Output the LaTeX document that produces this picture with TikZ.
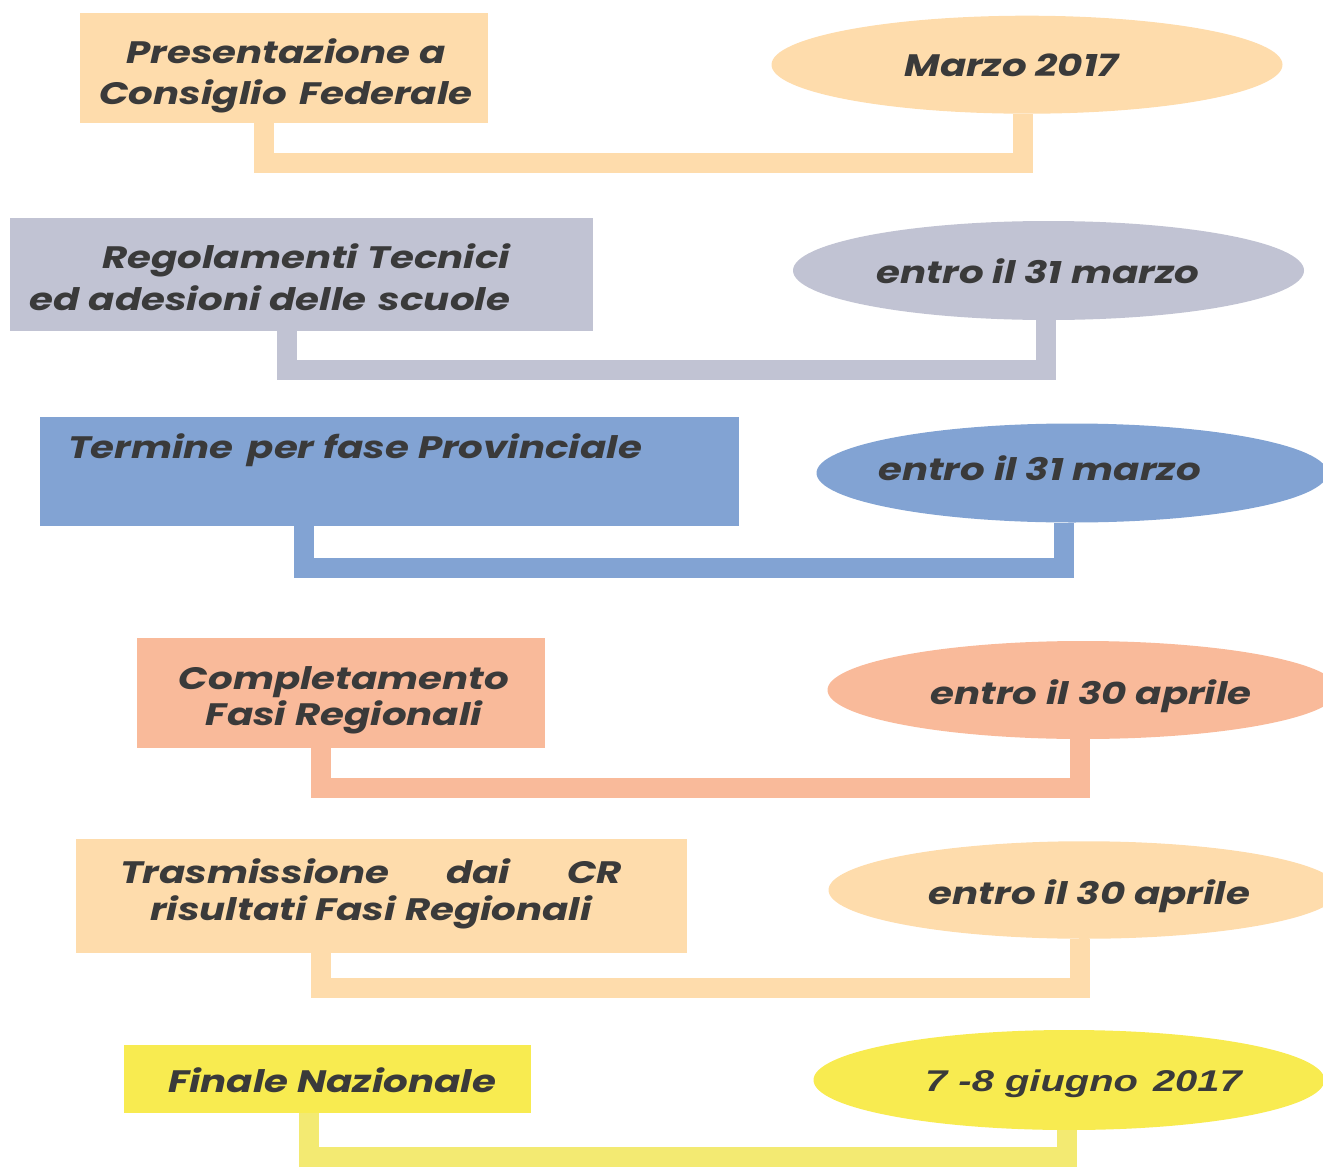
\documentclass[tikz,border=0pt]{standalone}
\usepackage{fontspec}
\setmainfont{Poppins}[FakeStretch=1.25]
\newfontfamily\arialbi{Liberation Sans}[FakeStretch=1.33]
\usetikzlibrary{shapes.geometric}
\definecolor{peach}{RGB}{254,220,172}
\definecolor{greyc}{RGB}{193,195,211}
\definecolor{bluec}{RGB}{130,163,211}
\definecolor{salmon}{RGB}{249,186,154}
\definecolor{yellowc}{RGB}{248,235,80}
\definecolor{yellowl}{RGB}{243,234,114}
\definecolor{txtc}{RGB}{58,58,58}
\begin{document}
\begin{tikzpicture}[x=1pt,y=-1pt,
  boxnode/.style={rectangle, fill=#1, draw=none, inner sep=0pt, outer sep=0pt},
  ellnode/.style={ellipse, fill=#1, draw=none, inner sep=0pt, outer sep=0pt, minimum width=511pt},
  conn/.style={draw=#1, line width=20pt, line join=miter, line cap=butt},
  txt/.style={inner sep=0pt, outer sep=0pt, text=txtc, font=\fontsize{31}{41}\selectfont\bfseries\itshape}]
\path[use as bounding box, clip] (0,0) rectangle (1323,1167);
% row 1
\node[boxnode=peach, minimum width=408pt, minimum height=110pt] (r1) at (284,67.7) {};
\node[ellnode=peach, minimum height=98pt] (e1) at (1027,64.7) {};
\draw[conn=peach] ([xshift=-19.7pt]r1.south) -- ++(0,40) -| ([xshift=-4pt]e1.south);
\node[txt, align=center, anchor=base] (t1) at (286,104) {Presentazione a\\Consiglio\hspace{0.4em}Federale};
\node[txt, anchor=base] (u1) at (1011.5,76) {Marzo 2017};
% row 2
\node[boxnode=greyc, minimum width=583pt, minimum height=113pt] (r2) at (301.5,274.5) {};
\node[ellnode=greyc, minimum height=99pt] (e2) at (1048.5,270.5) {};
\draw[conn=greyc] ([xshift=-15pt]r2.south) -- ++(0,38.5) -| ([xshift=-3pt]e2.south);
\node[txt, align=right, anchor=base east, font=\fontsize{31}{42}\selectfont\bfseries\itshape] (t2) at (510,310) {Regolamenti Tecnici\\ed adesioni delle\hspace{0.4em}scuole};
\node[txt, anchor=base] (u2) at (1038,283) {entro il 31 marzo};
% row 3
\node[boxnode=bluec, minimum width=699pt, minimum height=109pt] (r3) at (389,471.5) {};
\node[ellnode=bluec, minimum height=99pt] (e3) at (1072,473) {};
\draw[conn=bluec] ([xshift=-84.7pt]r3.south) -- ++(0,42) -| ([xshift=-8.3pt]e3.south);
\node[txt, anchor=base west] (t3) at (68,458) {Termine\hspace{0.45em}per fase Provinciale};
\node[txt, anchor=base] (u3) at (1039.5,480) {entro il 31 marzo};
% row 4
\node[boxnode=salmon, minimum width=408pt, minimum height=110pt] (r4) at (341,693) {};
\node[ellnode=salmon, minimum height=98pt] (e4) at (1083,690) {};
\draw[conn=salmon] ([xshift=-20pt]r4.south) -- ++(0,40) -| ([xshift=-3pt]e4.south);
\node[txt, align=center, anchor=base, font=\fontsize{31}{36}\selectfont\bfseries\itshape] (t4) at (344,725) {Completamento\\Fasi Regionali};
\node[txt, anchor=base] (u4) at (1091,704) {entro il 30 aprile};
% row 5
\node[boxnode=peach, minimum width=611pt, minimum height=114pt] (r5) at (381.5,896) {};
\node[ellnode=peach, minimum height=97.5pt] (e5) at (1084,890) {};
\draw[conn=peach] ([xshift=-60.5pt]r5.south) -- ++(0,35) -| ([xshift=-4pt]e5.south);
\node[txt, align=center, anchor=base, font=\fontsize{31}{37.5}\selectfont\bfseries\itshape] (t5) at (371,920.7) {\makebox[502pt][s]{Trasmissione dai CR}\\risultati Fasi Regionali};
\node[txt, anchor=base] (u5) at (1089.5,904) {entro il 30 aprile};
% row 6
\node[boxnode=yellowc, minimum width=407pt, minimum height=68pt] (r6) at (327.5,1079) {};
\node[ellnode=yellowc, minimum height=100pt] (e6) at (1069,1080) {};
\draw[conn=yellowl] ([xshift=-18.5pt]r6.south) -- ++(0,44) -| ([xshift=-2pt]e6.south);
\node[txt, anchor=base] (t6) at (332,1092) {Finale Nazionale};
\node[txt, anchor=base, font=\fontsize{30}{36}\arialbi\bfseries\itshape] (u6) at (1083.5,1091.7) {7 -8 giugno\hspace{0.5em}2017};
\end{tikzpicture}
\end{document}
